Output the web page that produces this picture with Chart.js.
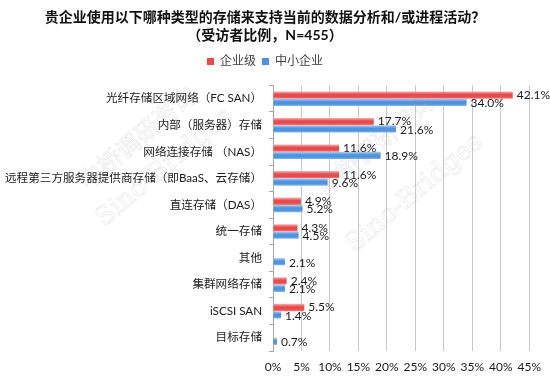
<!DOCTYPE html>
<html>
<head>
<meta charset="utf-8">
<script src="https://cdn.jsdelivr.net/npm/chart.js@4"></script>
<style>
  html, body { margin: 0; padding: 0; background: #fff; }
  #wrap { width: 550px; height: 378px; }
</style>
</head>
<body>
<div id="wrap"><canvas id="rendcont" width="550" height="378"></canvas></div>
<script>
let categories = ["光纤存储区域网络（FC SAN）", "内部（服务器）存储", "网络连接存储 （NAS）",
  "远程第三方服务器提供商存储（即BaaS、云存储）", "直连存储（DAS）", "统一存储", "其他",
  "集群网络存储", "iSCSI SAN", "目标存储"];
let enterprise = [42.1, 17.7, 11.6, 11.6, 4.9, 4.3, null, 2.4, 5.5, null];
let smb = [34.0, 21.6, 18.9, 9.6, 5.2, 4.5, 2.1, 2.1, 1.4, 0.7];
let seriesNames = ["企业级", "中小企业"];
let seriesColors = ["#e94a4b", "#4d93e0"];
let xTicks = [0, 5, 10, 15, 20, 25, 30, 35, 40, 45];

const FONT = "Lato, 'Noto Sans CJK SC', sans-serif";
const CAT_PCT = 0.55;

// bar fill with a light edge / strong middle, like the original 3D-ish bars
function barFill(light, mid, edge) {
  return (c) => {
    let chart = c.chart;
    let y = chart.scales && chart.scales.y;
    if (c.type !== "data" || !y || !chart.chartArea) return mid;
    let step = y.height / categories.length;
    let th = step * CAT_PCT / 2;
    let center = y.getPixelForValue(c.dataIndex);
    let top = center - th + c.datasetIndex * th;
    let g = chart.ctx.createLinearGradient(0, top, 0, top + th);
    g.addColorStop(0, light);
    g.addColorStop(0.4, mid);
    g.addColorStop(0.75, mid);
    g.addColorStop(1, edge);
    return g;
  };
}

const valueLabels = {
  id: "valueLabels",
  afterDatasetsDraw(chart) {
    let cx = chart.ctx;
    cx.save();
    cx.font = "12px " + FONT;
    cx.fillStyle = "#1a1a1a";
    cx.textAlign = "left";
    cx.textBaseline = "middle";
    chart.data.datasets.forEach((ds, di) => {
      let meta = chart.getDatasetMeta(di);
      meta.data.forEach((el, i) => {
        let v = ds.data[i];
        if (v == null) return;
        cx.fillText(v.toFixed(1) + "%", el.x + 4, el.y + (di == 1 ? 1 : 0));
      });
    });
    cx.restore();
  }
};

const watermark = {
  id: "watermark",
  afterDraw(chart) {
    let cx = chart.ctx;
    cx.save();
    cx.strokeStyle = "rgba(150,150,150,0.22)";
    cx.lineWidth = 0.7;
    cx.textBaseline = "middle";
    [0, 1].forEach((copy) => {
      cx.save();
      cx.translate(copy ? 320 : 82, copy ? 190 : 184);
      cx.rotate(-40 * Math.PI / 180);
      cx.font = "24px 'Noto Sans CJK SC'";
      cx.strokeText("中桥调研咨询", 0, 0);
      cx.restore();
      cx.save();
      cx.translate(copy ? 350 : 100, copy ? 248 : 222);
      cx.rotate(-40 * Math.PI / 180);
      cx.font = "26px 'DejaVu Serif'";
      cx.strokeText("Sino-Bridges", 0, 0);
      cx.restore();
    });
    cx.restore();
  }
};

const legendSpace = {
  id: "legendSpace",
  beforeInit(chart) {
    let orig = chart.legend.fit;
    chart.legend.fit = function () {
      orig.bind(chart.legend)();
      this.height += 8;
    };
  }
};

let cht = new Chart(document.getElementById("rendcont"), {
  type: "bar",
  data: {
    labels: categories,
    datasets: [
      { label: seriesNames[0], data: enterprise,
        backgroundColor: barFill("#f7b3b3", seriesColors[0], "#f28a8a"),
        borderWidth: 0, categoryPercentage: CAT_PCT, barPercentage: 1.0 },
      { label: seriesNames[1], data: smb,
        backgroundColor: barFill("#b3d3f6", seriesColors[1], "#8dbcf0"),
        borderWidth: 0, categoryPercentage: CAT_PCT, barPercentage: 1.0 }
    ]
  },
  options: {
    indexAxis: "y",
    responsive: false,
    animation: false,
    layout: { padding: { left: 0, right: 20, top: 0, bottom: 4 } },
    scales: {
      x: {
        min: 0, max: 45,
        afterBuildTicks: (s) => { s.ticks = xTicks.map((v) => ({ value: v })); },
        afterFit: (s) => { s.height = 23; },
        ticks: { callback: (v) => v + "%", color: "#1a1a1a", padding: 9,
                 maxRotation: 0, minRotation: 0, autoSkip: false,
                 font: { size: 12, family: FONT } },
        grid: { color: "#c8c8c8", drawTicks: false },
        border: { display: false }
      },
      y: {
        afterFit: (s) => { s.width = 273; },
        ticks: { color: "#1a1a1a", padding: 7, font: { size: 11.6, family: FONT } },
        grid: { drawOnChartArea: false, tickLength: 4, color: "#a6a6a6" },
        border: { color: "#a6a6a6" }
      }
    },
    plugins: {
      title: {
        display: true,
        text: ["贵企业使用以下哪种类型的存储来支持当前的数据分析和/或进程活动？", "（受访者比例，N=455）"],
        color: "#111",
        font: { size: 14, weight: "bold", family: FONT, lineHeight: 1.3 },
        padding: { top: 8, bottom: 5 }
      },
      legend: {
        labels: {
          boxWidth: 7, boxHeight: 7, padding: 6, color: "#404040",
          font: { size: 12, family: FONT },
          generateLabels: (chart) => chart.data.datasets.map((ds, i) => ({
            text: ds.label, fillStyle: seriesColors[i], strokeStyle: seriesColors[i],
            lineWidth: 0, datasetIndex: i, fontColor: "#404040"
          }))
        }
      },
      tooltip: { enabled: false }
    }
  },
  plugins: [valueLabels, watermark, legendSpace]
});
</script>
</body>
</html>
